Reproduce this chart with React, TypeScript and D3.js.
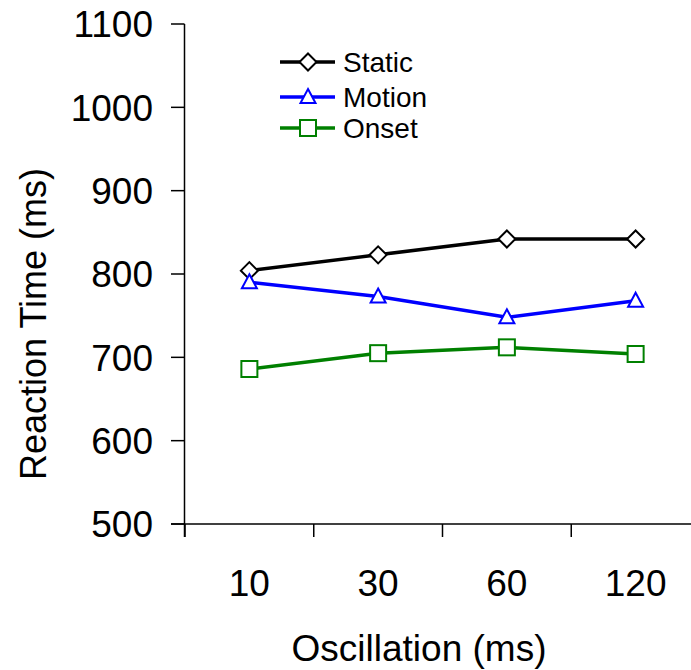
import React from "react";
import * as d3 from "d3";

const categories = ["10", "30", "60", "120"];
const staticValues = [804, 823, 842, 842];
const motionValues = [790, 773, 748, 768];
const onsetValues = [686, 705, 712, 704];
const yTicks = [500, 600, 700, 800, 900, 1000, 1100];

const W = 691;
const H = 670;
const font = "'Liberation Sans', Arial, sans-serif";

const x = d3.scaleBand<string>().domain(categories).range([185, 700]);
const y = d3.scaleLinear().domain([500, 1100]).range([524, 24]);

const series = [
  { name: "Static", values: staticValues, color: "#000000", marker: "diamond" },
  { name: "Motion", values: motionValues, color: "#0000FF", marker: "triangle" },
  { name: "Onset", values: onsetValues, color: "#008000", marker: "square" },
];

function Marker({ type, cx, cy, color }: { type: string; cx: number; cy: number; color: string }) {
  if (type === "diamond") {
    const r = 8.5;
    return (
      <path
        d={`M${cx},${cy - r}L${cx + r},${cy}L${cx},${cy + r}L${cx - r},${cy}Z`}
        fill="#fff"
        stroke={color}
        strokeWidth={2}
      />
    );
  }
  if (type === "triangle") {
    const w = 7.5;
    return (
      <path
        d={`M${cx},${cy - 8}L${cx + w},${cy + 6}L${cx - w},${cy + 6}Z`}
        fill="#fff"
        stroke={color}
        strokeWidth={2}
      />
    );
  }
  const s = 8;
  return <rect x={cx - s} y={cy - s} width={2 * s} height={2 * s} fill="#fff" stroke={color} strokeWidth={2} />;
}

export default function App() {
  const line = d3
    .line<number>()
    .x((_, i) => (x(categories[i]) as number) + x.bandwidth() / 2)
    .y((d) => y(d));
  const boundaries = categories.map((c) => x(c) as number);
  const legendY = [62, 97, 128];
  return (
    <svg
      width={W}
      height={H}
      style={{ position: "absolute", left: 0, top: 0, background: "#fff" }}
      fontFamily={font}
    >
      {/* y axis */}
      <line x1={184.5} x2={184.5} y1={24} y2={537} stroke="#000" strokeWidth={1.5} />
      {yTicks.map((t) => (
        <g key={t}>
          <line x1={171} x2={184.5} y1={y(t)} y2={y(t)} stroke="#000" strokeWidth={1.5} />
          <text x={153} y={y(t)} dy="0.36em" textAnchor="end" fontSize={37}>
            {t}
          </text>
        </g>
      ))}
      {/* x axis */}
      <line x1={171} x2={W} y1={524} y2={524} stroke="#000" strokeWidth={1.5} />
      {boundaries.map((b, i) => (
        <line key={i} x1={b} x2={b} y1={524} y2={537} stroke="#000" strokeWidth={1.5} />
      ))}
      {categories.map((c) => (
        <text key={c} x={(x(c) as number) + x.bandwidth() / 2} y={583} dy="0.36em" textAnchor="middle" fontSize={37}>
          {c}
        </text>
      ))}
      <text x={419} y={648} dy="0.36em" textAnchor="middle" fontSize={37}>
        Oscillation (ms)
      </text>
      <text transform="translate(33,324) rotate(-90)" dy="0.36em" textAnchor="middle" fontSize={36}>
        Reaction Time (ms)
      </text>
      {/* series */}
      {series.map((s) => (
        <g key={s.name}>
          <path d={line(s.values) || ""} fill="none" stroke={s.color} strokeWidth={3.5} />
          {s.values.map((v, i) => (
            <Marker
              key={i}
              type={s.marker}
              cx={(x(categories[i]) as number) + x.bandwidth() / 2}
              cy={y(v)}
              color={s.color}
            />
          ))}
        </g>
      ))}
      {/* legend */}
      {series.map((s, i) => (
        <g key={s.name}>
          <line x1={280} x2={335} y1={legendY[i]} y2={legendY[i]} stroke={s.color} strokeWidth={3.5} />
          <Marker type={s.marker} cx={308} cy={legendY[i]} color={s.color} />
          <text x={343} y={legendY[i]} dy="0.36em" fontSize={28}>
            {s.name}
          </text>
        </g>
      ))}
    </svg>
  );
}
